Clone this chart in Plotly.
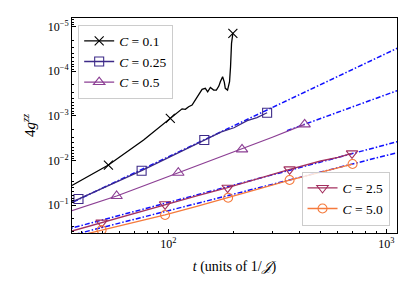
import plotly.graph_objects as go

# ---------------- data ----------------
t_c01 = [36.1, 53.1, 77.0, 102.1, 109.6, 115.6, 119.7, 123.9, 128.5, 133.0, 137.7, 142.8,
         147.8, 151.5, 155.9, 161.4, 166.1, 170.5, 173.2, 177.4, 180.6, 182.5, 186.9,
         190.9, 192.9, 194.9, 197.7]
g_c01 = [0.0366, 0.01268, 3.49e-3, 1.14e-3, 9.0e-4, 6.97e-4, 7.15e-4, 6.25e-4, 5.73e-4,
         4.43e-4, 3.42e-4, 2.55e-4, 2.42e-4, 2.88e-4, 2.30e-4, 2.64e-4, 2.64e-4, 2.15e-4,
         1.72e-4, 1.33e-4, 1.75e-4, 2.42e-4, 2.64e-4, 1.72e-4, 7.9e-5, 2.37e-5, 1.42e-5]
mk_c01 = [1, 3, 26]

t_c025 = [36.1, 38.7, 54.0, 75.4, 105.0, 146.2, 175.0, 200.0, 230.0, 255.0, 283.9]
g_c025 = [0.0859, 0.0733, 0.0355, 0.0170, 7.7e-3, 3.49e-3, 2.3e-3, 1.85e-3, 1.28e-3,
          1.09e-3, 8.51e-4]
mk_c025 = [1, 3, 5, 10]

t_c05 = [36.1, 45.0, 57.9, 80.0, 111.1, 155.0, 217.8, 300.0, 422.0]
g_c05 = [0.134, 0.0944, 0.0628, 0.0347, 0.01888, 0.0104, 5.64e-3, 3.02e-3, 1.55e-3]
mk_c05 = [2, 4, 6, 8]

t_c25 = [36.1, 49.4, 70.0, 96.6, 135.0, 187.0, 260.0, 360.0, 500.0, 600.0, 696.0]
g_c25 = [0.383, 0.249, 0.152, 0.0965, 0.0625, 0.0409, 0.0254, 0.01585, 0.0103, 8.5e-3, 6.93e-3]
mk_c25 = [1, 3, 5, 7, 10]

t_c50 = [36.1, 43.0, 49.4, 70.0, 96.6, 135.0, 188.0, 260.0, 360.0, 500.0, 700.0]
g_c50 = [0.532, 0.4315, 0.364, 0.243, 0.1675, 0.107, 0.0686, 0.0435, 0.0275, 0.0183, 0.01205]
mk_c50 = [2, 4, 6, 8, 10]

# power-law fit lines (end points)
fit_t_full = [30.0, 1300.0]
fit_t_c05 = [350.0, 1300.0]
fit_c025 = [0.1355, 2.17e-5]
fit_c05 = [2.16e-3, 2.09e-4]
fit_c25 = [0.418, 3.14e-3]
fit_c50 = [0.597, 5.57e-3]

labels = ["<i>C</i> = 0.1", "<i>C</i> = 0.25", "<i>C</i> = 0.5", "<i>C</i> = 2.5", "<i>C</i> = 5.0"]
y_ticks = [1e-5, 1e-4, 1e-3, 1e-2, 1e-1]
y_ticktext = ["10<sup>\u22125</sup>", "10<sup>\u22124</sup>", "10<sup>\u22123</sup>",
              "10<sup>\u22122</sup>", "10<sup>\u22121</sup>"]
x_ticks = [100, 1000]
x_ticktext = ["10<sup>2</sup>", "10<sup>3</sup>"]

# ---------------- styling ----------------
FONT = "Liberation Serif, DejaVu Serif, serif"
FIT_COLOR = "#1010ff"
series = [
    (t_c01, g_c01, mk_c01, "#000000", "x-thin-open", 9, "legend"),
    (t_c025, g_c025, mk_c025, "#3d2a88", "square-open", 9, "legend"),
    (t_c05, g_c05, mk_c05, "#8c3f94", "triangle-up-open", 10, "legend"),
    (t_c25, g_c25, mk_c25, "#a3305f", "triangle-down-open", 10, "legend2"),
    (t_c50, g_c50, mk_c50, "#f57a3c", "circle-open", 9, "legend2"),
]

fig = go.Figure()

# fit lines (drawn underneath)
for ft, fy in [(fit_t_full, fit_c025), (fit_t_c05, fit_c05), (fit_t_full, fit_c25), (fit_t_full, fit_c50)]:
    fig.add_trace(go.Scatter(x=ft, y=fy, mode="lines", showlegend=False, hoverinfo="skip",
                             line=dict(color=FIT_COLOR, width=1.5, dash="5px,2px,1.5px,2px")))

for (t, g, mk, col, sym, sz, leg), lab in zip(series, labels):
    lw = 1.3
    fig.add_trace(go.Scatter(x=t, y=g, mode="lines", showlegend=False,
                             line=dict(color=col, width=lw)))
    fig.add_trace(go.Scatter(x=[t[i] for i in mk], y=[g[i] for i in mk], mode="markers",
                             showlegend=False,
                             marker=dict(symbol=sym, size=sz, color=col,
                                         line=dict(color=col, width=1.1))))
    fig.add_trace(go.Scatter(x=[None], y=[None], mode="lines+markers", name=lab, legend=leg,
                             line=dict(color=col, width=lw),
                             marker=dict(symbol=sym, size=sz, color=col,
                                         line=dict(color=col, width=1.1))))

# minor tick positions
y_minor = [k * 10.0 ** d for d in range(-6, 0) for k in range(2, 10)]
x_minor = [k * 10.0 for k in range(4, 10)] + [k * 100.0 for k in range(2, 10)]

axis_common = dict(showline=True, mirror=True, linecolor="black", linewidth=1,
                   ticks="inside", ticklen=4, tickwidth=1, tickcolor="black",
                   showgrid=False, zeroline=False, automargin=False,
                   tickfont=dict(family=FONT, size=12, color="black"))

fig.update_xaxes(type="log", range=[1.558, 3.049], tickmode="array",
                 tickvals=x_ticks, ticktext=x_ticktext,
                 minor=dict(tickmode="array", tickvals=x_minor, ticks="inside",
                            ticklen=2, tickwidth=0.8, tickcolor="black", showgrid=False),
                 title=dict(text="<i>t</i> (units of 1/<i>\U0001D4A5</i>)",
                            font=dict(family=FONT, size=14, color="black"), standoff=10),
                 **axis_common)
fig.update_yaxes(type="log", range=[-0.372, -5.195], tickmode="array",
                 tickvals=y_ticks, ticktext=y_ticktext,
                 minor=dict(tickmode="array", tickvals=y_minor, ticks="inside",
                            ticklen=2, tickwidth=0.8, tickcolor="black", showgrid=False),
                 title=dict(text="4<i>g</i><sup><i>zz</i></sup>",
                            font=dict(family=FONT, size=15, color="black"), standoff=8),
                 **axis_common)

legend_common = dict(bgcolor="rgba(255,255,255,0.8)", bordercolor="#cccccc", borderwidth=1,
                     font=dict(family=FONT, size=13.5, color="black"),
                     itemwidth=30, tracegroupgap=0)
# the page body has an 8px default margin, so the figure is drawn 8px smaller
fig.update_layout(
    width=407, height=287,
    margin=dict(l=64, r=18, t=10, b=62),
    paper_bgcolor="white", plot_bgcolor="white",
    legend=dict(x=0.019, y=0.969, xanchor="left", yanchor="top", **legend_common),
    legend2=dict(x=0.977, y=0.034, xanchor="right", yanchor="bottom", **legend_common),
)

fig.write_html("out.html")
